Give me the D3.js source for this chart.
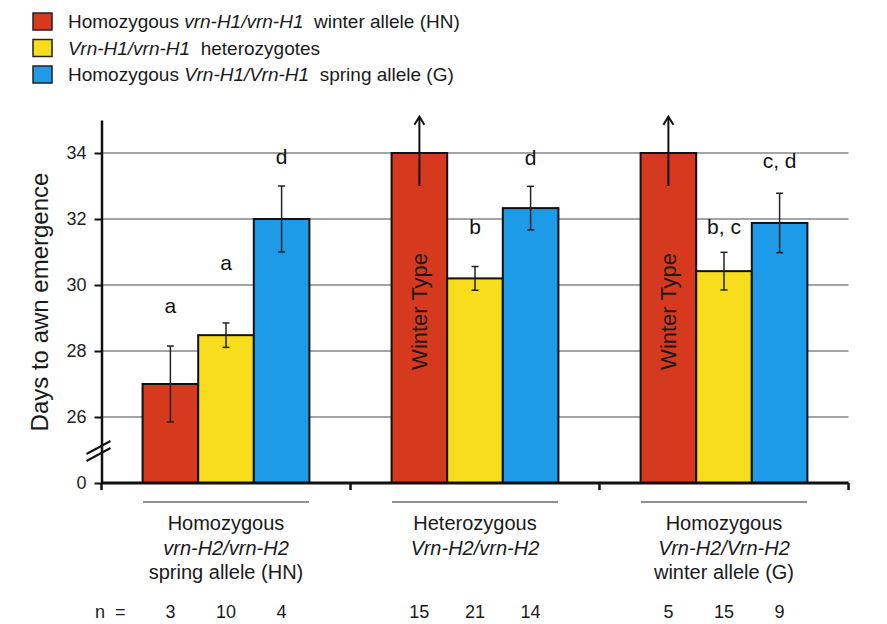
<!DOCTYPE html>
<html>
<head>
<meta charset="utf-8">
<script src="https://cdn.jsdelivr.net/npm/d3@7"></script>
<style>
  body { margin: 0; background: #fff; }
  svg { font-family: "Liberation Sans", Arial, sans-serif; }
</style>
</head>
<body>
<svg id="chart" width="887" height="624"></svg>
<script>
//chart data
var groups = ["vrnH2hom", "vrnH2het", "VrnH2hom"];
var seriesNames = ["winterHN", "hetH1", "springG"];
var winterHN = [27.0, 34, 34];      //34 = truncated "Winter Type" bars
var hetH1 = [28.48, 30.2, 30.42];
var springG = [32.0, 32.33, 31.88];
var winterErr = [1.15, null, null];
var hetErr = [0.37, 0.36, 0.57];
var springErr = [1.0, 0.66, 0.9];
var winterLetters = ["a", "", ""];
var hetLetters = ["a", "b", "b, c"];
var springLetters = ["d", "d", "c, d"];
var winterLetterAt = [29.14, null, null];
var hetLetterAt = [30.44, 31.55, 31.55];
var springLetterAt = [33.67, 33.65, 33.56];
var winterN = [3, 15, 5];
var hetN = [10, 21, 15];
var springN = [4, 14, 9];
var yTicks = [24, 26, 28, 30, 32, 34];   //24 is drawn as "0" below the break

var colors = ["#d6391e", "#f8dd1c", "#1e9be8"];

var svg = d3.select("#chart");

var x0 = d3.scaleBand()
	.domain(groups)
	.range([101.5, 848.5])
	.paddingInner(0.33)
	.paddingOuter(0.165);

var x1 = d3.scaleBand()
	.domain(seriesNames)
	.range([0, x0.bandwidth()]);

var y = d3.scaleLinear()
	.domain([24, 35])
	.range([483, 120]);

var color = d3.scaleOrdinal().domain(seriesNames).range(colors);

//build bar records
var bars = [];
var vals = [winterHN, hetH1, springG],
	errs = [winterErr, hetErr, springErr],
	letters = [winterLetters, hetLetters, springLetters],
	letterAt = [winterLetterAt, hetLetterAt, springLetterAt],
	counts = [winterN, hetN, springN];
groups.forEach(function(g, gi){
	seriesNames.forEach(function(s, si){
		bars.push({
			group: g, series: s,
			value: vals[si][gi], err: errs[si][gi],
			letter: letters[si][gi], letterAt: letterAt[si][gi],
			n: counts[si][gi],
			winter: si == 0 && errs[si][gi] == null
		});
	});
});
function cx(d){ return x0(d.group) + x1(d.series) + x1.bandwidth()/2; }

//gridlines
svg.append("g")
	.selectAll("line")
	.data(yTicks.filter(function(t){ return t > 24; }))
	.enter().append("line")
	.attr("x1", x0.range()[0]).attr("x2", x0.range()[1])
	.attr("y1", function(d){ return y(d); })
	.attr("y2", function(d){ return y(d); })
	.attr("stroke", "#a4a4a4")
	.attr("stroke-width", 2);

//bars
svg.append("g")
	.selectAll("rect")
	.data(bars)
	.enter().append("rect")
	.attr("x", function(d){ return x0(d.group) + x1(d.series); })
	.attr("y", function(d){ return y(d.value); })
	.attr("width", x1.bandwidth())
	.attr("height", function(d){ return y(24) - y(d.value); })
	.attr("fill", function(d){ return color(d.series); })
	.attr("stroke", "#111")
	.attr("stroke-width", 2);

//error bars
var eb = svg.append("g")
	.selectAll("g")
	.data(bars.filter(function(d){ return d.err != null; }))
	.enter().append("g")
	.attr("stroke", "#222")
	.attr("stroke-width", 1.5);
eb.append("line")
	.attr("x1", cx).attr("x2", cx)
	.attr("y1", function(d){ return y(d.value + d.err); })
	.attr("y2", function(d){ return y(d.value - d.err); });
[1, -1].forEach(function(sign){
	eb.append("line")
		.attr("x1", function(d){ return cx(d) - 3.5; })
		.attr("x2", function(d){ return cx(d) + 3.5; })
		.attr("y1", function(d){ return y(d.value + sign*d.err); })
		.attr("y2", function(d){ return y(d.value + sign*d.err); });
});

//significance letters
svg.append("g")
	.selectAll("text")
	.data(bars.filter(function(d){ return d.letter; }))
	.enter().append("text")
	.attr("x", cx)
	.attr("y", function(d){ return y(d.letterAt); })
	.attr("text-anchor", "middle")
	.attr("font-size", 21)
	.attr("fill", "#111")
	.text(function(d){ return d.letter; });

//winter type bars: label and arrow
var winterBars = bars.filter(function(d){ return d.winter; });
svg.append("g")
	.selectAll("text")
	.data(winterBars)
	.enter().append("text")
	.attr("transform", function(d){ return "translate(" + cx(d) + "," + y(29.2) + ") rotate(-90)"; })
	.attr("text-anchor", "middle")
	.attr("dominant-baseline", "central")
	.attr("font-size", 22)
	.attr("fill", "#1a1a1a")
	.text("Winter Type");
var arrows = svg.append("g")
	.selectAll("g")
	.data(winterBars)
	.enter().append("g")
	.attr("stroke", "#111")
	.attr("stroke-width", 2)
	.attr("fill", "none");
arrows.append("line")
	.attr("x1", cx).attr("x2", cx)
	.attr("y1", y(33.0)).attr("y2", y(35.1));
arrows.append("path")
	.attr("d", function(d){
		var t = y(35.1);
		return "M" + (cx(d) - 5) + "," + (t + 8) + "L" + cx(d) + "," + t + "L" + (cx(d) + 5) + "," + (t + 8);
	});

//y axis
var yAxis = svg.append("g")
	.attr("transform", "translate(" + x0.range()[0] + ",0)")
	.call(d3.axisLeft(y)
		.tickValues(yTicks)
		.tickFormat(function(d){ return d == 24 ? "0" : d; })
		.tickSize(7)
		.tickSizeOuter(0)
		.tickPadding(8));
yAxis.select(".domain").attr("stroke", "#111").attr("stroke-width", 2.5);
yAxis.selectAll(".tick line").attr("stroke", "#111").attr("stroke-width", 2);
yAxis.selectAll(".tick text")
	.attr("font-size", 18)
	.attr("font-family", "Liberation Sans, Arial, sans-serif")
	.attr("fill", "#222");

//axis break marks
var yb = y(25.0), ax = x0.range()[0];
[0, 7].forEach(function(off){
	svg.append("line")
		.attr("x1", ax - 15).attr("y1", yb + 4 + off)
		.attr("x2", ax + 9).attr("y2", yb - 9 + off)
		.attr("stroke", "#111")
		.attr("stroke-width", 2);
});

//x axis (baseline with ticks at group boundaries)
svg.append("line")
	.attr("x1", x0.range()[0]).attr("x2", x0.range()[1])
	.attr("y1", y(24)).attr("y2", y(24))
	.attr("stroke", "#111").attr("stroke-width", 3);
svg.append("g")
	.selectAll("line")
	.data(d3.range(groups.length + 1))
	.enter().append("line")
	.attr("x1", function(i){ return x0.range()[0] + i*x0.step(); })
	.attr("x2", function(i){ return x0.range()[0] + i*x0.step(); })
	.attr("y1", y(24)).attr("y2", y(24) + 7)
	.attr("stroke", "#111").attr("stroke-width", 2.5);

svg.append("text")
	.attr("transform", "rotate(-90,48,302)")
	.attr("x", 48).attr("y", 302)
	.attr("text-anchor", "middle")
	.attr("font-size", 24)
	.attr("fill", "#1a1a1a")
	.text("Days to awn emergence");

//group captions below the axis
var captionLines = [
	[{t: "Homozygous"}, {t: "vrn-H2/vrn-H2", i: true}, {t: "spring allele (HN)"}],
	[{t: "Heterozygous"}, {t: "Vrn-H2/vrn-H2", i: true}],
	[{t: "Homozygous"}, {t: "Vrn-H2/Vrn-H2", i: true}, {t: "winter allele (G)"}]
];
var cap = svg.append("g")
	.selectAll("g")
	.data(groups)
	.enter().append("g")
	.attr("transform", function(g){ return "translate(" + (x0(g) + x0.bandwidth()/2) + ",0)"; });
cap.append("line")
	.attr("x1", -83).attr("x2", 83)
	.attr("y1", 502).attr("y2", 502)
	.attr("stroke", "#222").attr("stroke-width", 1.2);
cap.each(function(g, gi){
	d3.select(this).selectAll("text")
		.data(captionLines[gi])
		.enter().append("text")
		.attr("y", function(d, i){ return 530 + i*24.5; })
		.attr("text-anchor", "middle")
		.attr("font-size", 20)
		.attr("font-style", function(d){ return d.i ? "italic" : null; })
		.attr("fill", "#1a1a1a")
		.text(function(d){ return d.t; });
});

//sample sizes
svg.append("text")
	.attr("x", 95).attr("y", 618)
	.attr("font-size", 18)
	.attr("fill", "#1a1a1a")
	.attr("xml:space", "preserve")
	.text("n  =");
svg.append("g")
	.selectAll("text")
	.data(bars)
	.enter().append("text")
	.attr("x", cx)
	.attr("y", 618)
	.attr("text-anchor", "middle")
	.attr("font-size", 18)
	.attr("fill", "#1a1a1a")
	.text(function(d){ return d.n; });

//legend
var legendText = [
	[{t: "Homozygous "}, {t: "vrn-H1/vrn-H1", i: true}, {t: "  winter allele (HN)"}],
	[{t: "Vrn-H1/vrn-H1", i: true}, {t: "  heterozygotes"}],
	[{t: "Homozygous "}, {t: "Vrn-H1/Vrn-H1", i: true}, {t: "  spring allele (G)"}]
];
var legend = svg.append("g")
	.selectAll("g")
	.data(seriesNames)
	.enter().append("g")
	.attr("transform", function(d, i){ return "translate(33," + (28 + i*26.5) + ")"; });
legend.append("rect")
	.attr("x", 0).attr("y", -15)
	.attr("width", 19).attr("height", 17)
	.attr("fill", function(d){ return color(d); })
	.attr("stroke", "#222").attr("stroke-width", 1.5);
legend.append("text")
	.attr("x", 35)
	.attr("font-size", 19)
	.attr("fill", "#1a1a1a")
	.attr("xml:space", "preserve")
	.each(function(d, i){
		var t = d3.select(this);
		legendText[i].forEach(function(p){
			t.append("tspan")
				.attr("font-style", p.i ? "italic" : null)
				.text(p.t);
		});
	});
</script>
</body>
</html>
